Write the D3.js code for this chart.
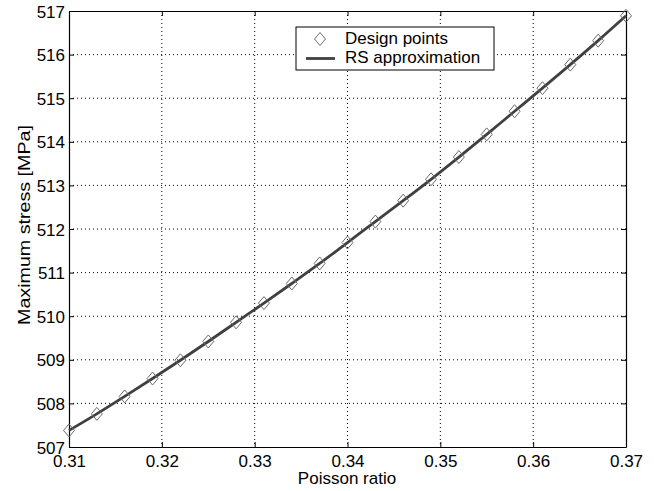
<!DOCTYPE html>
<html><head><meta charset="utf-8">
<script src="https://cdn.jsdelivr.net/npm/d3@7/dist/d3.min.js"></script>
<style>body{margin:0;background:#fff}svg{display:block}text{font-family:"Liberation Sans",Arial,sans-serif}</style>
</head><body>
<svg id="c" width="660" height="491"></svg>
<script>
const poisson = [0.310,0.313,0.316,0.319,0.322,0.325,0.328,0.331,0.334,0.337,0.340,0.343,0.346,0.349,0.352,0.355,0.358,0.361,0.364,0.367,0.370];
const stress = [507.38,507.76,508.16,508.57,508.99,509.42,509.86,510.30,510.75,511.21,511.69,512.17,512.65,513.14,513.65,514.17,514.70,515.23,515.77,516.32,516.89];
const xTicks = [0.31,0.32,0.33,0.34,0.35,0.36,0.37];
const yTicks = [507,508,509,510,511,512,513,514,515,516,517];
const legendLabels = ["Design points","RS approximation"];

const svg = d3.select("#c");
const L=69, R=626, T=11, B=447;
const FS=17;
const x = d3.scaleLinear().domain([0.31,0.37]).range([L,R]);
const y = d3.scaleLinear().domain([507,517]).range([B,T]);

// grid
const g = svg.append("g");
g.selectAll("line.gx").data(xTicks.slice(1,-1)).enter().append("line")
 .attr("x1",d=>x(d)).attr("x2",d=>x(d)).attr("y1",T).attr("y2",B)
 .attr("stroke","#000").attr("stroke-width",1).attr("stroke-dasharray","1,3");
g.selectAll("line.gy").data(yTicks.slice(1,-1)).enter().append("line")
 .attr("y1",d=>y(d)).attr("y2",d=>y(d)).attr("x1",L).attr("x2",R)
 .attr("stroke","#000").attr("stroke-width",1).attr("stroke-dasharray","1,3");

// axes
const tk=5;
const ax = svg.append("g").attr("transform",`translate(0,${B})`)
 .call(d3.axisBottom(x).tickValues(xTicks).tickFormat(d3.format(".2f")).tickSizeInner(-tk).tickSizeOuter(0).tickPadding(8));
const axT = svg.append("g").attr("transform",`translate(0,${T})`)
 .call(d3.axisTop(x).tickValues(xTicks).tickFormat("").tickSizeInner(-tk).tickSizeOuter(0));
const ay = svg.append("g").attr("transform",`translate(${L},0)`)
 .call(d3.axisLeft(y).tickValues(yTicks).tickFormat(d3.format("d")).tickSizeInner(-tk).tickSizeOuter(0).tickPadding(4));
const ayR = svg.append("g").attr("transform",`translate(${R},0)`)
 .call(d3.axisRight(y).tickValues(yTicks).tickFormat("").tickSizeInner(-tk).tickSizeOuter(0));
[ax,axT,ay,ayR].forEach(a=>{
  a.select(".domain").attr("stroke","#000").attr("stroke-width",1.2);
  a.selectAll(".tick line").attr("stroke","#000");
  a.selectAll("text").attr("font-size",FS).attr("fill","#000").style("font-family",'"Liberation Sans",Arial,sans-serif');
});
ax.selectAll("text").attr("y",0).attr("dy",0).attr("transform","translate(0,19.7)");
ay.selectAll("text").attr("dy","0.36em");

// line
const line = d3.line().x((d,i)=>x(poisson[i])).y(d=>y(d)).curve(d3.curveMonotoneX);
svg.append("path").datum(stress).attr("d",line).attr("fill","none").attr("stroke","#404040").attr("stroke-width",2.8);

// diamonds
const dia = (cx,cy)=>`M${cx},${cy-6.5}L${cx+5.5},${cy}L${cx},${cy+6.5}L${cx-5.5},${cy}Z`;
svg.selectAll("path.pt").data(stress).enter().append("path")
 .attr("d",(d,i)=>dia(x(poisson[i]),y(d))).attr("fill","none").attr("stroke","#6a6a6a").attr("stroke-width",1);

// labels
svg.append("text").attr("x",347).attr("y",484).attr("text-anchor","middle").attr("font-size",FS).text("Poisson ratio");
svg.append("text").attr("transform",`translate(30,225) rotate(-90)`).attr("text-anchor","middle").attr("font-size",FS)
 .attr("textLength",200).attr("lengthAdjust","spacingAndGlyphs").text("Maximum stress [MPa]");

// legend
const lg = svg.append("g");
lg.append("rect").attr("x",296).attr("y",27).attr("width",198).attr("height",43).attr("fill","#fff").attr("stroke","#000").attr("stroke-width",1);
lg.append("path").attr("d",dia(320,39)).attr("fill","none").attr("stroke","#6a6a6a");
lg.append("line").attr("x1",306).attr("x2",335).attr("y1",58.5).attr("y2",58.5).attr("stroke","#404040").attr("stroke-width",2.8);
lg.selectAll("text.l").data(legendLabels).enter().append("text")
 .attr("x",345).attr("y",(d,i)=>44.3+i*19).attr("font-size",FS).text(d=>d);
</script>
</body></html>
